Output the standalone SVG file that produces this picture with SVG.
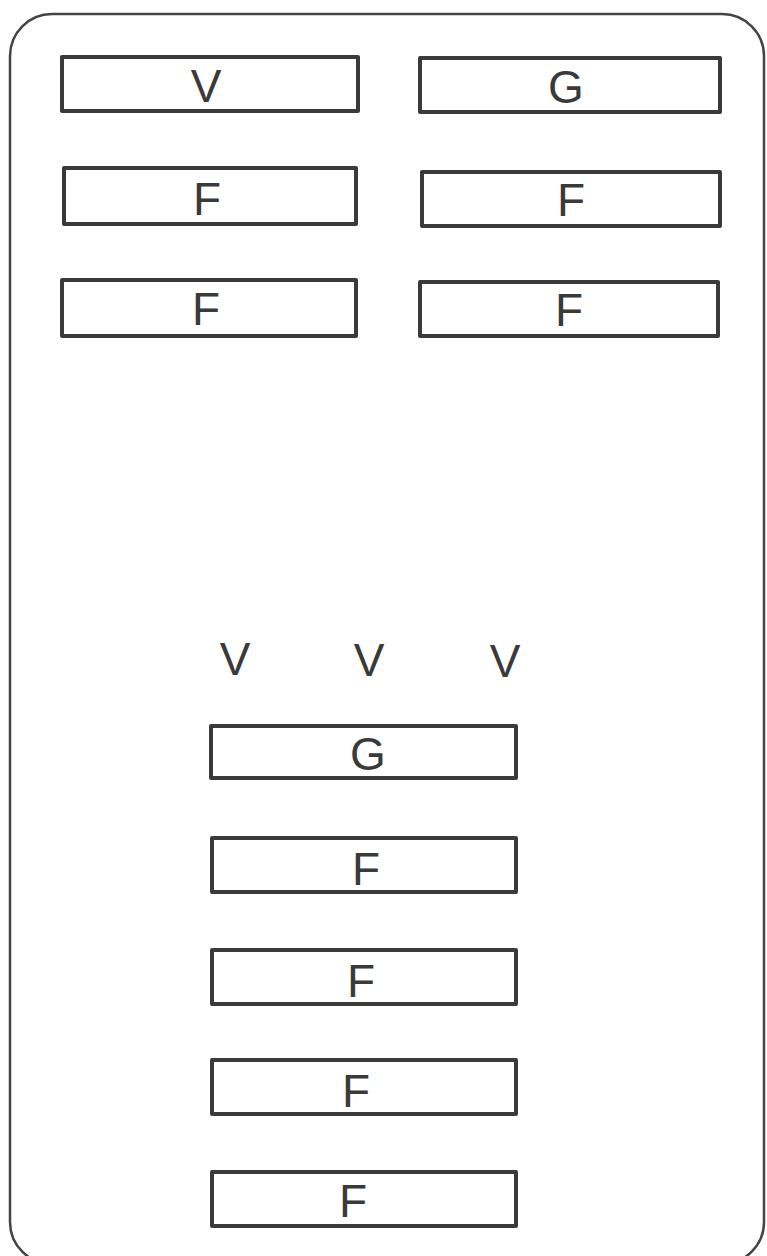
<svg xmlns="http://www.w3.org/2000/svg" width="767" height="1256" viewBox="0 0 767 1256">
<style>
.box{fill:none;stroke:#3a3a3a;stroke-width:4;stroke-linejoin:round}
.frame{fill:none;stroke:#444444;stroke-width:2.5}
.lbl{font-family:"Liberation Sans Narrow","Liberation Sans",Arial,sans-serif;font-size:46px;fill:#3a3a3a;text-anchor:middle}
</style>
<rect width="767" height="1256" fill="#ffffff"/>
<rect id="frame" class="frame" x="10" y="14" width="754" height="1250" rx="42" ry="42"/>
<g id="n-v-top"><rect class="box" x="62" y="57" width="296" height="54"/><text class="lbl" x="206" y="102">V</text></g>
<g id="n-g-top"><rect class="box" x="420" y="58" width="300" height="54"/><text class="lbl" x="566" y="103">G</text></g>
<g id="n-f-l1"><rect class="box" x="64" y="168" width="292" height="56"/><text class="lbl" x="207" y="215">F</text></g>
<g id="n-f-r1"><rect class="box" x="422" y="172" width="298" height="54"/><text class="lbl" x="571" y="216">F</text></g>
<g id="n-f-l2"><rect class="box" x="62" y="280" width="294" height="56"/><text class="lbl" x="206" y="325">F</text></g>
<g id="n-f-r2"><rect class="box" x="420" y="282" width="298" height="54"/><text class="lbl" x="569" y="326">F</text></g>
<g id="n-vvv"><text class="lbl" x="235" y="675">V</text><text class="lbl" x="369" y="676">V</text><text class="lbl" x="505" y="677">V</text></g>
<g id="n-g-bot"><rect class="box" x="211" y="726" width="305" height="52"/><text class="lbl" x="368" y="770">G</text></g>
<g id="n-f-b1"><rect class="box" x="212" y="838" width="304" height="54"/><text class="lbl" x="366" y="885">F</text></g>
<g id="n-f-b2"><rect class="box" x="212" y="950" width="304" height="54"/><text class="lbl" x="361" y="997">F</text></g>
<g id="n-f-b3"><rect class="box" x="212" y="1060" width="304" height="54"/><text class="lbl" x="356" y="1107">F</text></g>
<g id="n-f-b4"><rect class="box" x="212" y="1172" width="304" height="54"/><text class="lbl" x="353" y="1217">F</text></g>
<g id="connectors"></g>
</svg>
